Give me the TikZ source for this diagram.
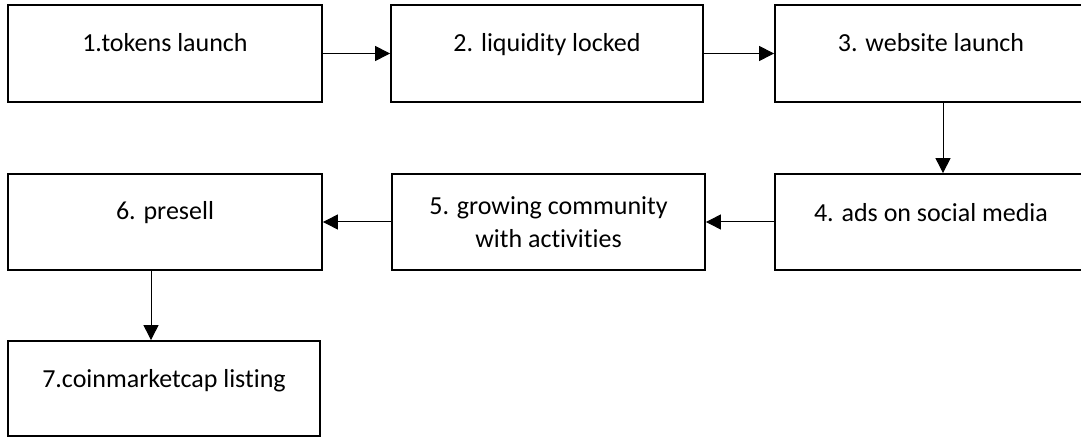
\documentclass[tikz,border=0pt]{standalone}
\usepackage{fontspec}
\setmainfont{Carlito}[Ligatures=NoCommon]
\usetikzlibrary{arrows.meta,calc}

\begin{document}
\begin{tikzpicture}[
  x=1pt, y=-1pt,
  >={Triangle[length=15pt,width=15pt]},
  etape/.style={draw, line width=1.8pt, minimum width=312pt, minimum height=96pt, inner sep=0pt},
  texte/.style={anchor=base, font=\fontsize{26}{33}\selectfont},
  fleche/.style={line width=1pt,->},
]
  % Cadre
  \useasboundingbox (0,0) rectangle (1081,438);

  % Etapes (rangee du haut)
  \node[etape, minimum width=314pt, minimum height=97pt] (e1) at (165,53.5) {};
  \node[etape, minimum height=97pt] (e2) at (547,53.5) {};
  \node[etape, minimum height=97pt] (e3) at (931,53.5) {};

  % Etapes (rangee du milieu)
  \node[etape] (e4) at (931,222) {};
  \node[etape, minimum width=313pt] (e5) at (548.5,222) {};
  \node[etape, minimum width=314pt] (e6) at (165,222) {};

  % Derniere etape
  \node[etape, minimum height=95pt] (e7) at (164,388.5) {};

  % Textes
  \node[texte] (t1) at ($(e1.north)+(0,47)$) {1.tokens launch};
  \node[texte] (t2) at ($(e2.north)+(0,47)$) {2. liquidity locked};
  \node[texte] (t3) at ($(e3.north)+(0,47)$) {3. website launch};
  \node[texte] (t4) at ($(e4.north)+(0,48)$) {4. ads on social media};
  \node[texte, anchor=center, align=center] (t5) at (e5) {5. growing community\\with activities};
  \node[texte] (t6) at ($(e6.north)+(0,46)$) {6. presell};
  \node[texte] (t7) at ($(e7.north)+(0,47)$) {7.coinmarketcap listing};

  % Fleches
  \draw[fleche] (e1) -- (e2);
  \draw[fleche] (e2) -- (e3);
  \draw[fleche] ([xshift=12pt]e3.south) -- ([xshift=12pt]e3.south |- e4.north);
  \draw[fleche] (e4) -- (e5);
  \draw[fleche] (e5) -- (e6);
  \draw[fleche] ([xshift=-14pt]e6.south) -- ([xshift=-14pt]e6.south |- e7.north);
\end{tikzpicture}
\end{document}
